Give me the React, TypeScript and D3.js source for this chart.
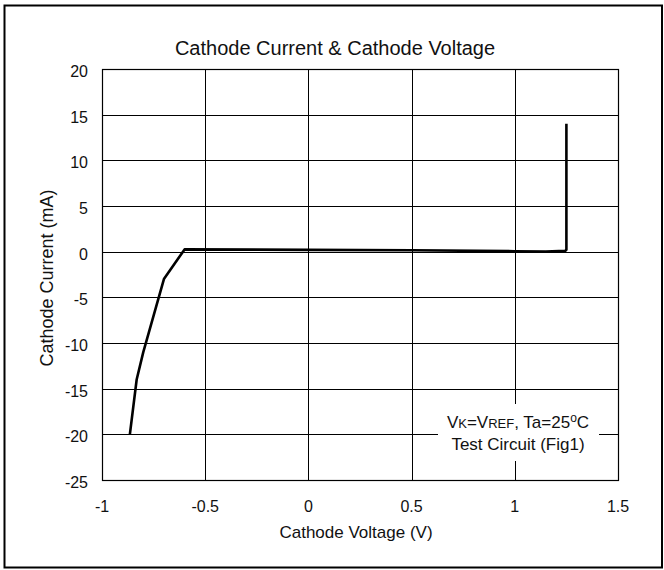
import * as d3 from 'd3';

// data
const voltage = [-0.865, -0.832, -0.8, -0.7, -0.6, 0, 0.5, 1.0, 1.15, 1.245, 1.25, 1.25];
const current = [-20, -14, -11, -3, 0.25, 0.2, 0.15, 0.05, 0, 0.1, 0.2, 14];
const xTicks = [-1, -0.5, 0, 0.5, 1, 1.5];
const yTicks = [20, 15, 10, 5, 0, -5, -10, -15, -20, -25];

const width = 664;
const height = 570;
const left = 102;
const right = 618;
const top = 69;
const bottom = 480;
const font = 'Arial, "Liberation Sans", Helvetica, sans-serif';

export default function App() {
  const x = d3.scaleLinear([-1, 1.5], [left, right]);
  const y = d3.scaleLinear([-25, 20], [bottom, top]);
  const pts = voltage.map((v, i) => [v, current[i]] as [number, number]);
  const line = d3.line<[number, number]>().x((d) => x(d[0])).y((d) => y(d[1]));

  return (
    <svg
      width={width}
      height={height}
      style={{ position: 'absolute', left: 0, top: 0, display: 'block', background: '#fff' }}
      fontFamily={font}>
      <rect x={4.5} y={5.5} width={657.5} height={562} fill='#fff' stroke='#000' strokeWidth={2} />
      <text x={335} y={55} textAnchor='middle' fontSize={20} fill='#111'>
        Cathode Current &amp; Cathode Voltage
      </text>

      {xTicks.map((t) => (
        <line key={'gx' + t} x1={Math.round(x(t)) + 0.5} x2={Math.round(x(t)) + 0.5} y1={top} y2={bottom} stroke='#000' strokeWidth={1} />
      ))}
      {yTicks.map((t) => (
        <line key={'gy' + t} x1={left} x2={right} y1={Math.round(y(t)) + 0.5} y2={Math.round(y(t)) + 0.5} stroke='#000' strokeWidth={1} />
      ))}
      <rect x={left + 0.5} y={top + 0.5} width={right - left} height={bottom - top} fill='none' stroke='#000' strokeWidth={1.2} />

      {/* annotation box */}
      <rect x={438} y={404} width={161} height={57} fill='#fff' />
      <text x={518} y={428} textAnchor='middle' fontSize={17} fill='#111'>
        V<tspan fontSize={13}>K</tspan>=V<tspan fontSize={13}>REF</tspan>, Ta=25<tspan fontSize={12} dy={-6}>o</tspan>
        <tspan dy={6}>C</tspan>
      </text>
      <text x={518} y={450} textAnchor='middle' fontSize={17} fill='#111'>
        Test Circuit (Fig1)
      </text>

      <path d={line(pts) ?? ''} fill='none' stroke='#000' strokeWidth={2.6} strokeLinejoin='round' />

      {yTicks.map((t) => (
        <text key={'ly' + t} x={88} y={y(t) + 8} textAnchor='end' fontSize={16} fill='#111'>
          {t}
        </text>
      ))}
      {xTicks.map((t) => (
        <text key={'lx' + t} x={x(t)} y={512} textAnchor='middle' fontSize={16} fill='#111'>
          {t}
        </text>
      ))}
      <text x={356} y={538} textAnchor='middle' fontSize={17} fill='#111'>
        Cathode Voltage (V)
      </text>
      <text
        transform={`translate(53, 278) rotate(-90)`}
        textAnchor='middle'
        fontSize={18}
        fill='#111'>
        Cathode Current (mA)
      </text>
    </svg>
  );
}
